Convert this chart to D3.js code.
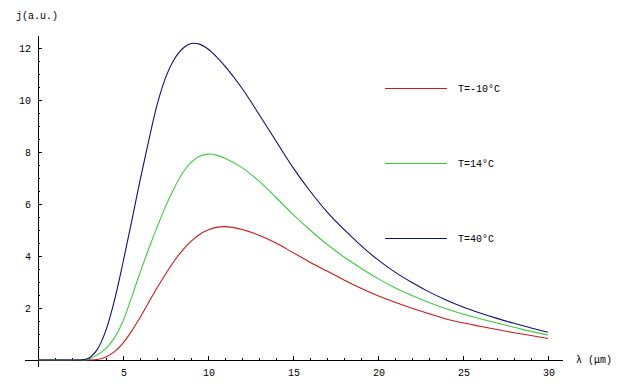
<!DOCTYPE html>
<html>
<head>
<meta charset="utf-8">
<script src="https://cdn.jsdelivr.net/npm/d3@7"></script>
<style>
  html, body { margin: 0; padding: 0; background: #fff; }
  svg { display: block; }
  text { font-family: "Liberation Mono", "DejaVu Sans Mono", monospace; font-size: 10px; fill: #000; }
</style>
</head>
<body>
<div id="chart"></div>
<script>
// wavelength samples (µm)
const lambda = [0, 1, 2, 2.5, 3, 3.5, 4, 4.5, 5, 5.5, 6, 6.5, 7, 7.5, 8, 8.5, 9, 9.5, 10, 10.5, 11,
  12, 13, 14, 15, 16, 17, 18, 19, 20, 21, 22, 23, 24, 25, 26, 27, 28, 29, 30];

// j (a.u.)
const jCold = [0, 0, 0, 0, 0, 0.02, 0.12, 0.32, 0.65, 1.1, 1.63, 2.2, 2.77, 3.3, 3.8, 4.22, 4.56, 4.83, 5.0, 5.1, 5.13,
  5.02, 4.8, 4.5, 4.13, 3.76, 3.42, 3.08, 2.76, 2.47, 2.22, 1.99, 1.78, 1.58, 1.43, 1.3, 1.17, 1.05, 0.94, 0.83];
const jMild = [0, 0, 0, 0, 0.03, 0.2, 0.45, 0.85, 1.5, 2.4, 3.35, 4.25, 5.1, 5.9, 6.6, 7.18, 7.6, 7.84, 7.92, 7.88, 7.76,
  7.4, 6.88, 6.25, 5.6, 5.0, 4.45, 3.96, 3.53, 3.13, 2.78, 2.48, 2.21, 1.97, 1.77, 1.59, 1.42, 1.26, 1.1, 0.96];
const jWarm = [0, 0, 0, 0, 0.08, 0.42, 1.15, 2.3, 3.75, 5.3, 6.9, 8.4, 9.8, 10.85, 11.55, 11.97, 12.17, 12.15, 11.96, 11.66, 11.3,
  10.45, 9.45, 8.42, 7.4, 6.5, 5.7, 5.02, 4.4, 3.85, 3.38, 2.98, 2.62, 2.31, 2.04, 1.81, 1.6, 1.41, 1.23, 1.07];

const seriesNames = ["T=-10°C", "T=14°C", "T=40°C"];
const seriesColors = ["#d01818", "#3ccc3c", "#10107a"];
const seriesValues = [jCold, jMild, jWarm];

const xMajor = [5, 10, 15, 20, 25, 30];
const yMajor = [2, 4, 6, 8, 10, 12];

const width = 626, height = 386;

const svg = d3.select("#chart").append("svg")
  .attr("width", width)
  .attr("height", height);

// 17 px per µm, 26 px per unit of j
const x = d3.scaleLinear().domain([0, 30]).range([38, 548]);
const y = d3.scaleLinear().domain([0, 12]).range([360, 48]);

// axes
const axes = svg.append("g").attr("stroke", "#000").attr("stroke-width", 1).attr("shape-rendering", "crispEdges");

axes.append("line")
  .attr("x1", x(-0.76)).attr("x2", x(30.9))
  .attr("y1", y(0)).attr("y2", y(0));
axes.append("line")
  .attr("x1", x(0)).attr("x2", x(0))
  .attr("y1", y(12.46)).attr("y2", y(0) + 7);

const xMinor = d3.range(1, 31).filter(v => v % 5 !== 0);
axes.selectAll("line.xminor").data(xMinor).join("line")
  .attr("class", "xminor")
  .attr("x1", d => x(d)).attr("x2", d => x(d))
  .attr("y1", y(0)).attr("y2", y(0) - 2);
axes.selectAll("line.xmajor").data(xMajor).join("line")
  .attr("class", "xmajor")
  .attr("x1", d => x(d)).attr("x2", d => x(d))
  .attr("y1", y(0)).attr("y2", y(0) - 4);

const yMinor = d3.range(0.5, 12.5, 0.5).filter(v => v % 2 !== 0);
axes.selectAll("line.yminor").data(yMinor).join("line")
  .attr("class", "yminor")
  .attr("x1", x(0)).attr("x2", x(0) + 2)
  .attr("y1", d => y(d)).attr("y2", d => y(d));
axes.selectAll("line.ymajor").data(yMajor).join("line")
  .attr("class", "ymajor")
  .attr("x1", x(0)).attr("x2", x(0) + 4)
  .attr("y1", d => y(d)).attr("y2", d => y(d));

svg.selectAll("text.xlab").data(xMajor).join("text")
  .attr("class", "xlab")
  .attr("x", d => x(d) + 1)
  .attr("y", y(0) + 16)
  .attr("text-anchor", "middle")
  .text(d => d);

svg.selectAll("text.ylab").data(yMajor).join("text")
  .attr("class", "ylab")
  .attr("x", 31)
  .attr("y", d => y(d) + 4)
  .attr("text-anchor", "end")
  .text(d => d);

svg.append("text").attr("x", 16).attr("y", 19).text("j(a.u.)");
svg.append("text").attr("x", 576).attr("y", 363).text("λ (μm)");

// curves
const line = d3.line()
  .x(d => x(d[0]))
  .y(d => y(d[1]))
  .curve(d3.curveCatmullRom.alpha(0.5));

svg.selectAll("path.curve").data(seriesValues).join("path")
  .attr("class", "curve")
  .attr("fill", "none")
  .attr("stroke", (d, i) => seriesColors[i])
  .attr("stroke-width", 1.1)
  .attr("d", d => line(lambda.map((l, i) => [l, d[i]])));

// legend
const legendY = [88, 163, 238];
const legend = svg.selectAll("g.legend").data(seriesNames).join("g")
  .attr("class", "legend")
  .attr("transform", (d, i) => `translate(385,${legendY[i]})`);
legend.append("line")
  .attr("x1", 0).attr("x2", 62)
  .attr("y1", 0.5).attr("y2", 0.5)
  .attr("stroke", (d, i) => seriesColors[i])
  .attr("stroke-width", 1);
legend.append("text")
  .attr("x", 73).attr("y", 4)
  .text(d => d);
</script>
</body>
</html>
